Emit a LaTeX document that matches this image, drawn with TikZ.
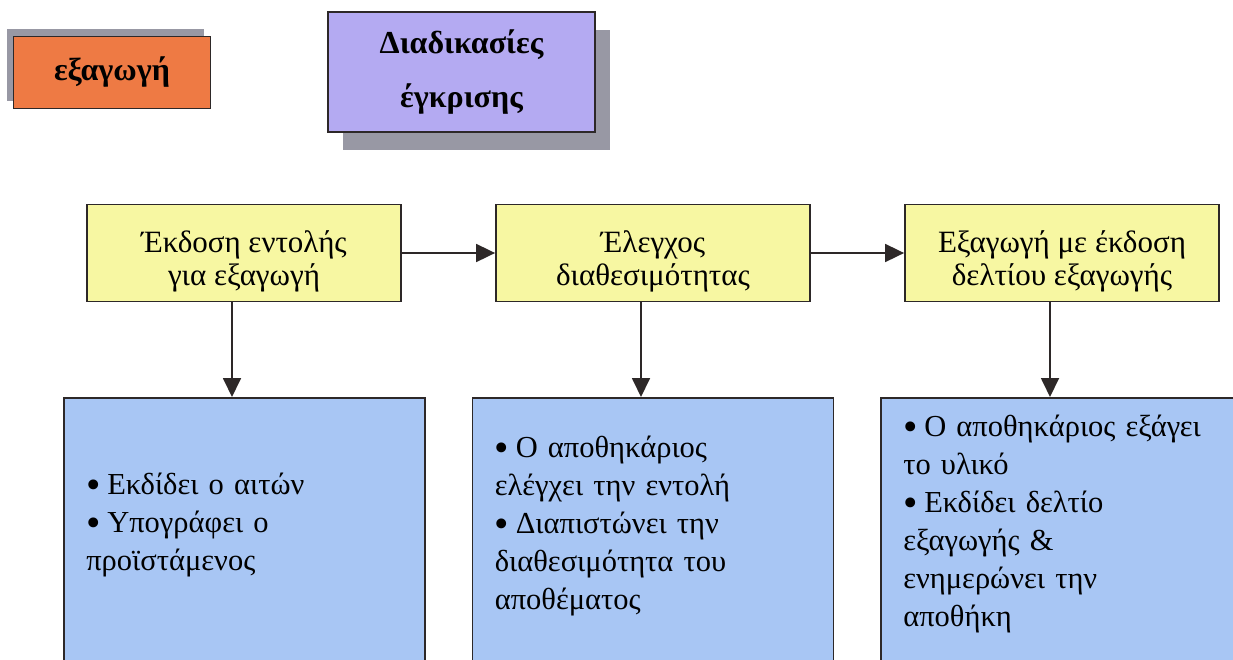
\documentclass[tikz,border=0pt]{standalone}
\usepackage{fontspec}
\setmainfont{Liberation Serif}
\usepackage{xcolor}
\usepackage{graphicx}
\usetikzlibrary{arrows.meta, positioning, shadows}

\definecolor{exportorange}{RGB}{238,122,68}
\definecolor{procpurple}{RGB}{180,170,242}
\definecolor{stepyellow}{RGB}{247,247,162}
\definecolor{detailblue}{RGB}{168,198,244}
\definecolor{shadowgray}{RGB}{152,152,164}
\definecolor{edgegray}{RGB}{45,40,40}

\newcommand{\bitem}[1]{\hangindent=21pt\hangafter=1\noindent
    \makebox[21pt][l]{\raisebox{-0.13em}{\scalebox{1.35}{•}}}#1\par}
\newcommand{\lift}{\rule{0pt}{38pt}}

\tikzset{
    titlebox/.style={draw=edgegray, line width=1.8pt, font=\fontsize{32}{54}\selectfont\bfseries,
        align=center, inner sep=0pt},
    stepbox/.style={draw=edgegray, line width=1.8pt, fill=stepyellow, minimum width=314pt,
        minimum height=97pt, align=center, inner sep=0pt, font=\fontsize{31}{33}\selectfont},
    detailbox/.style={draw=edgegray, line width=1.8pt, fill=detailblue, minimum width=361pt,
        minimum height=280pt, anchor=north, inner sep=0pt},
    detailtext/.style={anchor=west, text width=340pt, align=left, inner sep=0pt,
        font=\fontsize{30.5}{38}\selectfont},
    flow/.style={line width=1.8pt, draw=edgegray, -{Triangle[length=19pt,width=18pt]}}
}

\begin{document}
\begin{tikzpicture}[x=1pt, y=1pt]
    \useasboundingbox (0,0) rectangle (1233,-659);

    % Title boxes
    \node[titlebox, fill=exportorange, minimum width=197pt, minimum height=72pt,
        drop shadow={shadow xshift=-7pt, shadow yshift=8pt, fill=shadowgray, opacity=1}]
        (export) at (112,-72.5) {εξαγωγή};
    \node[titlebox, fill=procpurple, minimum width=267pt, minimum height=120pt,
        drop shadow={shadow xshift=15pt, shadow yshift=-18pt, fill=shadowgray, opacity=1}]
        (approval) at (461.5,-72) {Διαδικασίες\\έγκρισης};

    % Steps
    \node[stepbox] (order) at (244,-253) {\lift Έκδοση εντολής\\για εξαγωγή};
    \node[stepbox] (check) at (653,-253) {\lift Έλεγχος\\διαθεσιμότητας};
    \node[stepbox] (issue) at (1062,-253) {\lift Εξαγωγή με έκδοση\\δελτίου εξαγωγής};

    % Detail boxes
    \node[detailbox] (orderinfo) at (244.5,-397) {};
    \node[detailbox] (checkinfo) at (653,-397) {};
    \node[detailbox] (issueinfo) at (1061.5,-397) {};

    \node[detailtext] (ordertext) at ([xshift=23pt]orderinfo.west |- 0,-525)
        {\bitem{Εκδίδει ο αιτών}\bitem{Υπογράφει ο\\προϊστάμενος}};
    \node[detailtext] (checktext) at ([xshift=23pt]checkinfo.west |- 0,-526)
        {\bitem{Ο αποθηκάριος\\ελέγχει την εντολή}\bitem{Διαπιστώνει την\\διαθεσιμότητα του\\αποθέματος}};
    \node[detailtext] (issuetext) at ([xshift=23pt]issueinfo.west |- 0,-524)
        {\bitem{Ο αποθηκάριος εξάγει\\το υλικό}\bitem{Εκδίδει δελτίο\\εξαγωγής \&\\ενημερώνει την\\αποθήκη}};

    % Arrows
    \draw[flow] (order) -- (check);
    \draw[flow] (check) -- (issue);
    \foreach \s/\d in {order/orderinfo, check/checkinfo, issue/issueinfo}
        \draw[flow] ([xshift=-12pt]\s.south) -- ([xshift=-12pt]\s.south |- \d.north);
\end{tikzpicture}
\end{document}
